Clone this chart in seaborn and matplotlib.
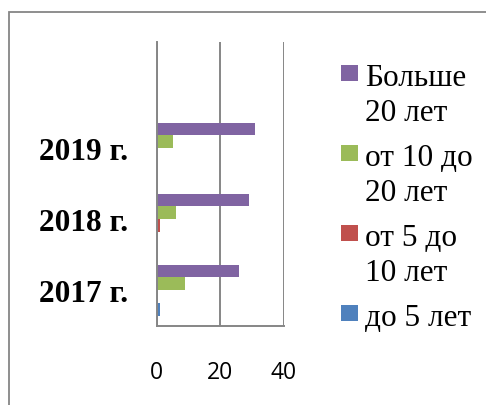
import matplotlib
matplotlib.use("Agg")
import matplotlib.pyplot as plt
from matplotlib.patches import Rectangle
import seaborn as sns
import pandas as pd
import numpy as np

# ---- data ----
years = ["", "2019 г.", "2018 г.", "2017 г."]
series = ["Больше\n20 лет", "от 10 до\n20 лет", "от 5 до\n10 лет", "до 5 лет"]
more_20 = [0, 31, 29, 26]
from_10_20 = [0, 5, 6, 9]
from_5_10 = [0, 0, 1, 0]
under_5 = [0, 0, 0, 1]
x_ticks = [0, 20, 40]

colors = ["#8064A2", "#9BBB59", "#C0504D", "#4F81BD"]
grid_c = "#868686"

rows = []
for s, vals in zip(series, [more_20, from_10_20, from_5_10, under_5]):
    for y, v in zip(years, vals):
        rows.append({"year": y, "series": s, "value": v})
df = pd.DataFrame(rows)

sns.set_style("white")
W, H = 486, 406
fig = plt.figure(figsize=(W / 100, H / 100), dpi=100)
ax = fig.add_axes([156.7 / W, 1 - 326.7 / H, (284 - 156.7) / W, (326.7 - 42.7) / H])

sns.barplot(data=df, y="year", x="value", hue="series", order=years,
            hue_order=series, palette=colors, saturation=1, orient="h", width=0.72,
            linewidth=0, ax=ax, legend=False)

ax.set_xlim(0, 40)
ax.set_ylim(3.5, -0.5)
ax.set_xlabel("")
ax.set_ylabel("")

# grid & spines
ax.set_xticks(x_ticks)
ax.xaxis.grid(True, color=grid_c, linewidth=1.4)
ax.yaxis.grid(False)
ax.set_axisbelow(True)
for s in ["top", "right"]:
    ax.spines[s].set_visible(False)
for s in ["left", "bottom"]:
    ax.spines[s].set_color(grid_c)
    ax.spines[s].set_linewidth(1.4)

ax.tick_params(axis="x", which="major", direction="out", length=6, width=1.4,
               color=grid_c, pad=19, labelsize=16.5, labelcolor="black")
for lab in ax.get_xticklabels():
    lab.set_fontfamily("Open Sans")

ax.set_yticks(range(len(years)))
ax.set_yticklabels(years)
ax.set_yticks(np.arange(-0.5, 4, 1), minor=True)
ax.tick_params(axis="y", which="major", length=0, pad=20.5, labelsize=22.5, labelcolor="black")
ax.tick_params(axis="y", which="minor", length=6.7, width=1.4, color=grid_c, direction="out")
for lab in ax.get_yticklabels():
    lab.set_fontfamily("Liberation Serif")
    lab.set_fontweight("bold")

# legend (manual, to match two-line entries with top-aligned keys)
entry_step = 80
line_step = 35.7
for i, (lab, c) in enumerate(zip(series, colors)):
    base = 85.7 + i * entry_step
    fig.add_artist(Rectangle((341 / W, 1 - (base - 3.5) / H), 16.5 / W, 16 / H,
                             transform=fig.transFigure, facecolor=c, edgecolor="none"))
    for j, line in enumerate(lab.split("\n")):
        fig.text(365 / W, 1 - (base + j * line_step) / H, line, ha="left", va="baseline",
                 fontsize=22.5, family="Liberation Serif", color="black")

# outer frame
fig.add_artist(Rectangle((8.5 / W, -0.1), 1.1, 1 - 13 / H + 0.1, transform=fig.transFigure,
                         fill=False, edgecolor=grid_c, linewidth=1.3, clip_on=False))

fig.savefig("out.png", dpi=100)
